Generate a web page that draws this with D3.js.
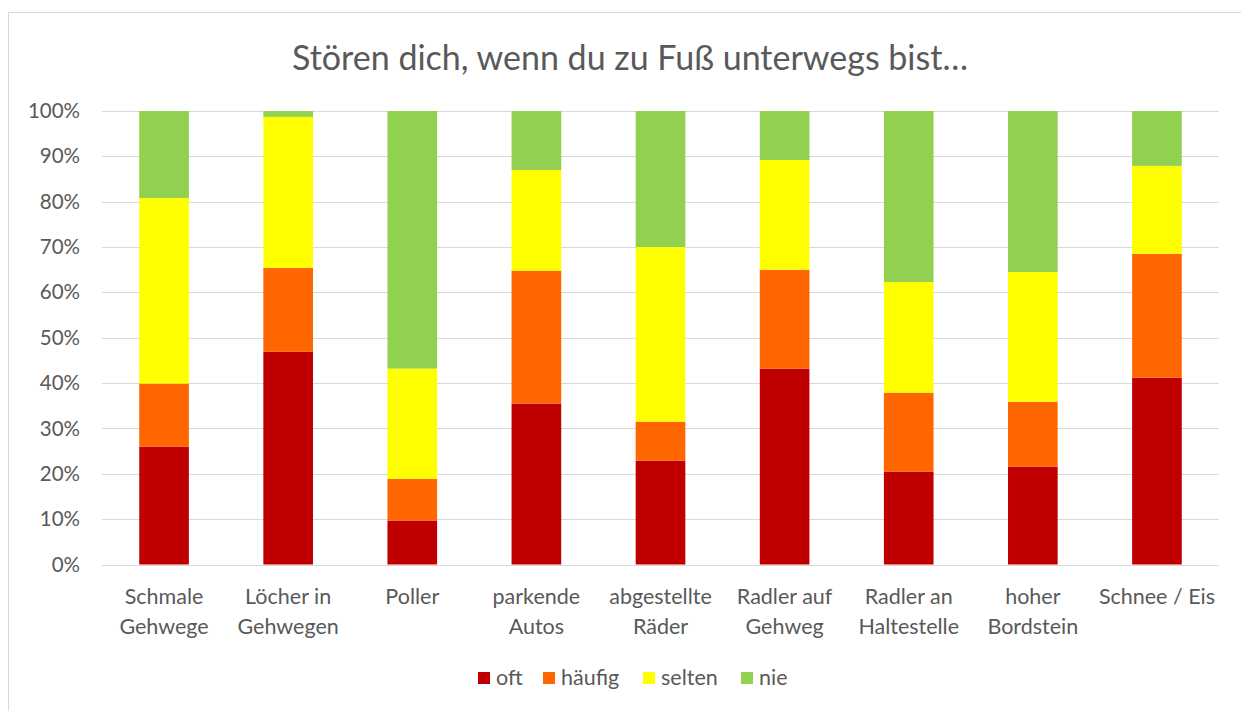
<!DOCTYPE html>
<html>
<head>
<meta charset="utf-8">
<script src="https://cdn.jsdelivr.net/npm/d3@7"></script>
<style>
  body { margin: 0; background: #fff; }
  text { font-family: Lato, "Open Sans", sans-serif; fill: #595959; }
</style>
</head>
<body>
<div id="container"></div>
<script>
/* DATA */
const categories = [
  ["Schmale", "Gehwege"], ["Löcher in", "Gehwegen"], ["Poller"],
  ["parkende", "Autos"], ["abgestellte", "Räder"], ["Radler auf", "Gehweg"],
  ["Radler an", "Haltestelle"], ["hoher", "Bordstein"], ["Schnee / Eis"]
];
const seriesNames = ["oft", "häufig", "selten", "nie"];
const colors = ["#C00000", "#FF6600", "#FFFF00", "#92D050"];
const oft    = [26.0, 46.9,  9.7, 35.5, 22.9, 43.2, 20.5, 21.6, 41.2];
const haeufig= [13.9, 18.5,  9.2, 29.3,  8.6, 21.8, 17.4, 14.3, 27.3];
const selten = [40.9, 33.3, 24.3, 22.2, 38.5, 24.2, 24.4, 28.6, 19.4];
const nie    = [19.2,  1.3, 56.8, 13.0, 30.0, 10.8, 37.7, 35.5, 12.1];
const yTicks = [0, 10, 20, 30, 40, 50, 60, 70, 80, 90, 100];

/* CONSTANTS */
const width = 1241, height = 711;
const margin = { left: 102, right: 22, top: 111, bottom: 146.5 };

const rows = categories.map((c, i) => ({
  key: i, label: c, oft: oft[i], "häufig": haeufig[i], selten: selten[i], nie: nie[i]
}));

const svg = d3.select("#container").append("svg")
  .attr("width", width).attr("height", height);

// chart frame
svg.append("rect")
  .attr("x", 8.5).attr("y", 12.5)
  .attr("width", 1240).attr("height", 710)
  .attr("fill", "none").attr("stroke", "#d9d9d9");

// SCALES
const xScale = d3.scaleBand()
  .domain(rows.map(d => d.key))
  .range([margin.left, width - margin.right])
  .paddingInner(0.6).paddingOuter(0.3);

const yScale = d3.scaleLinear()
  .domain([0, 100])
  .range([height - margin.bottom, margin.top]);

// gridlines
svg.append("g")
  .selectAll("line")
  .data(yTicks)
  .join("line")
  .attr("x1", margin.left).attr("x2", width - margin.right)
  .attr("y1", d => Math.round(yScale(d)) + 0.5)
  .attr("y2", d => Math.round(yScale(d)) + 0.5)
  .attr("stroke", "#d9d9d9").attr("stroke-width", 1);

// y axis
const yAxis = d3.axisLeft(yScale)
  .tickValues(yTicks)
  .tickFormat(d => d + "%")
  .tickSize(0).tickPadding(22);
svg.append("g")
  .attr("transform", `translate(${margin.left},0)`)
  .call(yAxis)
  .call(g => g.select(".domain").remove())
  .selectAll("text")
  .style("font-size", "20.5px")
  .attr("fill", "#595959");

// STACK
const stacked = d3.stack().keys(seriesNames)(rows);

svg.append("g")
  .selectAll("g")
  .data(stacked)
  .join("g")
  .attr("fill", (d, i) => colors[i])
  .selectAll("rect")
  .data(d => d)
  .join("rect")
  .attr("x", d => xScale(d.data.key))
  .attr("width", xScale.bandwidth())
  .attr("y", d => yScale(d[1]))
  .attr("height", d => yScale(d[0]) - yScale(d[1]));

// x labels
const xl = svg.append("g")
  .selectAll("text")
  .data(rows)
  .join("text")
  .attr("text-anchor", "middle")
  .attr("x", d => xScale(d.key) + xScale.bandwidth() / 2)
  .attr("y", 604)
  .style("font-size", "21.5px");
xl.selectAll("tspan")
  .data(d => d.label)
  .join("tspan")
  .attr("x", function() { return d3.select(this.parentNode).attr("x"); })
  .attr("dy", (d, i) => i === 0 ? 0 : 30)
  .text(d => d);

// title
svg.append("text")
  .attr("x", 630).attr("y", 70)
  .attr("text-anchor", "middle")
  .style("font-size", "34px")
  .text("Stören dich, wenn du zu Fuß unterwegs bist…");

// legend
const legendX = [478, 543, 643, 741];
const legend = svg.append("g")
  .selectAll("g")
  .data(seriesNames)
  .join("g")
  .attr("transform", (d, i) => `translate(${legendX[i]},672)`);
legend.append("rect")
  .attr("width", 12).attr("height", 12)
  .attr("fill", (d, i) => colors[i]);
legend.append("text")
  .attr("x", 18).attr("y", 13)
  .style("font-size", "21.5px")
  .text(d => d);
</script>
</body>
</html>
